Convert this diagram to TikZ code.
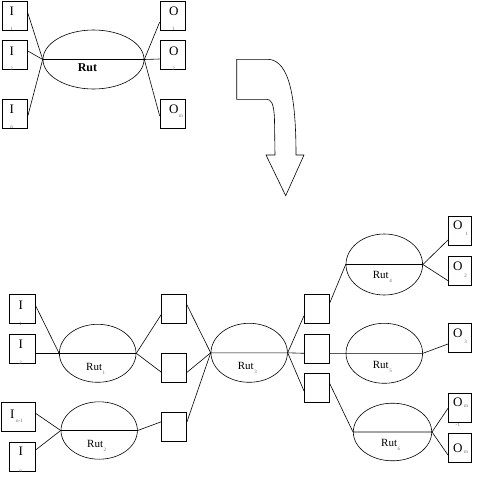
\documentclass[tikz,border=0pt]{standalone}
\usepackage{fontspec}
\setmainfont{Liberation Serif}
\usetikzlibrary{shapes.geometric}
\newcommand{\lowsub}[1]{\kern0.6pt\raisebox{-4pt}{\fontsize{5}{5}\selectfont\color{black!60}#1}}
\begin{document}
\begin{tikzpicture}[x=1pt,y=-1pt,
  box/.style={draw,line width=0.6pt,minimum width=25pt,minimum height=29pt,inner sep=0pt},
  oval/.style={draw,line width=0.6pt,ellipse,inner sep=0pt},
  wire/.style={line width=0.6pt},
  letter/.style={font=\fontsize{13}{13}\selectfont,inner sep=0pt},
  tinysub/.style={font=\fontsize{5}{5}\selectfont,text=black!60,inner sep=0pt},
  rutlabel/.style={font=\fontsize{11}{11}\selectfont,inner sep=0pt,anchor=base west}]
\useasboundingbox (0,0) rectangle (482,482);
\fill[white] (0,0) rectangle (482,482);

% ---------- top diagram ----------
\node[box] (i1) at (15,15.5) {};
\node[box] (i2) at (15,55) {};
\node[box] (in) at (15,113.5) {};
\node[box] (o1) at (172.5,15.5) {};
\node[box] (o2) at (172.5,55) {};
\node[box] (om) at (172.5,113.5) {};
\node[oval,minimum width=101pt,minimum height=59pt] (e0) at (93.5,59.5) {};

\draw[wire] ([yshift=2.5pt]i1.east) -- (e0.west);
\draw[wire] ([yshift=4pt]i2.east) -- (e0.west);
\draw[wire] ([yshift=-2.5pt]in.east) -- (e0.west);
\draw[wire] (e0.west) -- (e0.east) -- ([yshift=-4pt]o2.west);
\draw[wire] (e0.east) -- ([yshift=-6.5pt]o1.west);
\draw[wire] (e0.east) -- ([yshift=-2.5pt]om.west);

\node[font=\fontsize{12}{12}\selectfont\bfseries,inner sep=0pt] (r0) at (87.5,68) {Rut};
\node[letter] (ti1) at (11.7,11.3) {I};
\node[tinysub] (ts1) at (11.7,29) {1};
\node[letter] (ti2) at (11.7,51) {I};
\node[tinysub] (ts2) at (11.7,68.5) {2};
\node[letter] (tin) at (11.7,109) {I};
\node[tinysub] (tsn) at (11.7,127.5) {n};
\node[letter] (to1) at (173.7,11.2) {O};
\node[tinysub] (tso1) at (173.5,29.3) {1};
\node[letter] (to2) at (173.7,51) {O};
\node[tinysub] (tso2) at (173.5,69) {2};
\node[letter] (tom) at (173.7,109.5) {O};
\node[tinysub] (tsom) at (181,116.7) {m};

% ---------- big bent arrow ----------
\draw[line width=0.6pt] (236.7,59.3) -- (268,59.3)
  .. controls (290,60) and (296,100) .. (296,155)
  -- (304,155) -- (285.7,195.7) -- (266,155) -- (275,155) -- (274.5,120)
  .. controls (274,103) and (271,99.3) .. (266.7,99.3)
  -- (236.7,99.3) -- cycle;

% ---------- bottom diagram ----------
\node[box,minimum width=26pt] (b1) at (22.3,309) {};
\node[box,minimum width=26pt] (b2) at (22.3,348.3) {};
\node[box,minimum width=33.6pt] (bn1) at (18.5,417) {};
\node[box,minimum width=26pt] (bn) at (22.3,456.3) {};

\node[box] (m1) at (174.2,308.8) {};
\node[box] (m2) at (174.2,367.8) {};
\node[box] (m3) at (174.2,426.7) {};

\node[box] (r1) at (316.8,308.5) {};
\node[box] (r2) at (316.8,348.3) {};
\node[box] (r3) at (316.8,387.8) {};

\node[box,minimum width=23.4pt] (q1) at (460,230.5) {};
\node[box,minimum width=23.4pt] (q2) at (460,271) {};
\node[box,minimum width=23.4pt] (q3) at (460,338) {};
\node[box,minimum width=23.4pt] (qm1) at (460,407.3) {};
\node[box,minimum width=23.4pt] (qm) at (460,447.3) {};

\node[oval,minimum width=76.6pt,minimum height=58pt] (e1) at (97.7,353.3) {};
\node[oval,minimum width=76.4pt,minimum height=57.4pt] (e2) at (99.2,430.5) {};
\node[oval,minimum width=76.4pt,minimum height=59pt] (e3) at (249.2,352.8) {};
\node[oval,minimum width=76.6pt,minimum height=61pt] (e4) at (384.3,264.5) {};
\node[oval,minimum width=76.6pt,minimum height=60pt] (e5) at (384.3,353.3) {};
\node[oval,minimum width=78.4pt,minimum height=57.6pt] (e6) at (392.5,432) {};

% wires
\draw[wire] ([yshift=3.3pt]b1.east) -- (e1.west);
\draw[wire] ([yshift=-5pt]b2.east) -- (e1.west) -- (e1.east);
\draw[wire] (e1.east) -- ([yshift=-5.5pt]m1.west);
\draw[wire] (e1.east) -- ([yshift=-4.5pt]m2.west);

\draw[wire] ([yshift=3.7pt]bn1.east) -- (e2.west);
\draw[wire] ([yshift=6.3pt]bn.east) -- (e2.west) -- (e2.east) -- ([yshift=5pt]m3.west);

\draw[wire] ([yshift=3.8pt]m1.east) -- (e3.west);
\draw[wire] ([yshift=-4.5pt]m2.east) -- (e3.west);
\draw[wire] ([yshift=5pt]m3.east) -- (e3.west) -- (e3.east);
\draw[wire] (e3.east) -- ([yshift=-7.2pt]r1.west);
\draw[wire] (e3.east) -- ([yshift=-5pt]r2.west);
\draw[wire] (e3.east) -- ([yshift=-3.2pt]r3.west);

\draw[wire] ([yshift=5.2pt]r1.east) -- (e4.west) -- (e4.east);
\draw[wire] (e4.east) -- ([yshift=-9.5pt]q1.west);
\draw[wire] (e4.east) -- ([yshift=-9.7pt]q2.west);

\draw[wire] ([yshift=-5pt]r2.east) -- (e5.west) -- (e5.east) -- ([yshift=-6pt]q3.west);

\draw[wire] ([yshift=4.5pt]r3.east) -- (e6.west) -- (e6.east);
\draw[wire] (e6.east) -- ([yshift=-1pt]qm1.west);
\draw[wire] (e6.east) -- ([yshift=-7.7pt]qm.west);

% labels
\node[rutlabel] (l1) at (86,370.7) {Rut\lowsub{1}};
\node[rutlabel] (l2) at (87,447.7) {Rut\lowsub{2}};
\node[rutlabel] (l3) at (237.7,369) {Rut\lowsub{3}};
\node[rutlabel] (l4) at (372.7,278.3) {Rut\lowsub{4}};
\node[rutlabel] (l5) at (372.7,368.3) {Rut\lowsub{5}};
\node[rutlabel] (l6) at (381,446.7) {Rut\lowsub{6}};

\node[letter] (bi1) at (20.7,305) {I};
\node[tinysub] (bs1) at (20.7,324) {1};
\node[letter] (bi2) at (20.7,344.3) {I};
\node[tinysub] (bs2) at (20.7,363.3) {2};
\node[letter] (bin1) at (12.3,414.3) {I};
\node[tinysub] (bsn1) at (19.5,420.7) {n-1};
\node[letter] (bin) at (20.7,451.7) {I};
\node[tinysub] (bsn) at (20.7,471.7) {n};

\node[letter] (bo1) at (457.8,225.5) {O};
\node[tinysub] (bso1) at (466.7,234) {1};
\node[letter] (bo2) at (457.8,266.5) {O};
\node[tinysub] (bso2) at (465.7,275.5) {2};
\node[letter] (bo3) at (457.8,333.5) {O};
\node[tinysub] (bso3) at (465.7,342) {3};
\node[letter] (bom1) at (457.8,402.5) {O};
\node[tinysub] (bsom1) at (466,406.7) {m};
\node[tinysub] (bsm1b) at (457.7,425) {-1};
\node[letter] (bom) at (457.8,448.5) {O};
\node[tinysub] (bsom) at (466,452.5) {m};
\end{tikzpicture}
\end{document}
